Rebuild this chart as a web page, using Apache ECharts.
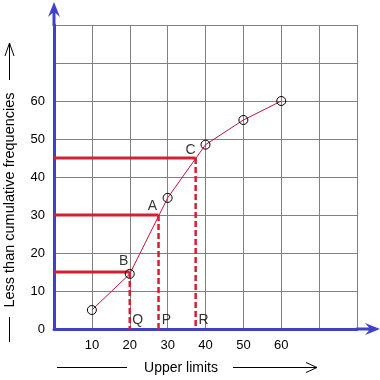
<!DOCTYPE html>
<html>
<head>
<meta charset="utf-8">
<script src="https://cdn.jsdelivr.net/npm/echarts@6/dist/echarts.min.js"></script>
<style>html,body{margin:0;padding:0;background:#fff;}#c{width:380px;height:380px;}</style>
</head>
<body>
<div id="c"></div>
<script>
// ---- data ----
const upperLimits = [10, 20, 30, 40, 50, 60];
const cumFreq = [5, 14.5, 34.5, 48.5, 55, 60];
const guideLevels = [15, 30, 45];        // B, A, C
const guideX = [20, 27.6, 37.4];         // Q, P, R
const pointNames = ['B', 'A', 'C'];
const footNames = ['Q', 'P', 'R'];
const xTickLabels = [10, 20, 30, 40, 50, 60];
const yTickLabels = [0, 10, 20, 30, 40, 50, 60];
const xTitle = 'Upper limits';
const yTitle = 'Less than cumulative frequencies';

const FONT = "'Liberation Sans', Arial, sans-serif";
const BLUE = '#4040c8';
const RED = '#d42030';
const LINE = '#c0143c';
const ARROW = 'path://M6,0 L12,15 L7.5,11 L7.5,24 L4.5,24 L4.5,11 L0,15 Z';

const chart = echarts.init(document.getElementById('c'), null, {renderer: 'canvas'});

const series = [];
// guide lines
guideLevels.forEach((lv, i) => {
  series.push({
    type: 'line', data: [[0, lv], [guideX[i], lv]], symbol: 'none', silent: true,
    lineStyle: {color: RED, width: 3}, z: 3
  });
  series.push({
    type: 'line', data: [[guideX[i], lv], [guideX[i], 0]], symbol: 'none', silent: true,
    lineStyle: {color: RED, width: 2.5, type: [6, 3]}, z: 3
  });
});
// ogive
series.push({
  type: 'line',
  data: upperLimits.map((x, i) => [x, cumFreq[i]]),
  symbol: 'circle', symbolSize: 9,
  lineStyle: {color: LINE, width: 1},
  itemStyle: {color: 'rgba(255,255,255,0)', borderColor: '#000', borderWidth: 1},
  z: 4
});
// letters
const offsets = {B: [-6, -11], A: [-6, -9], C: [-5, -8]};
series.push({
  type: 'scatter', symbolSize: 0, silent: true, z: 6,
  data: guideLevels.map((lv, i) => ({value: [guideX[i], lv], name: pointNames[i],
    label: {offset: offsets[pointNames[i]]}})),
  label: {show: true, position: 'inside', formatter: '{b}', color: '#000', fontSize: 14, fontFamily: FONT}
});
series.push({
  type: 'scatter', symbolSize: 0, silent: true, z: 6,
  data: guideX.map((x, i) => ({value: [x, 0], name: footNames[i]})),
  label: {show: true, position: 'inside', formatter: '{b}', offset: [8, -9], color: '#000', fontSize: 14, fontFamily: FONT}
});

chart.setOption({
  animation: false,
  backgroundColor: '#fff',
  grid: {left: 54, top: 25, width: 303, height: 304, containLabel: false},
  xAxis: {
    type: 'value', min: 0, max: 80, interval: 10,
    axisLine: {show: true, onZero: false, lineStyle: {color: BLUE, width: 3},
      symbol: ['none', ARROW], symbolSize: [12, 24], symbolOffset: [0, 11]},
    axisTick: {show: false},
    splitLine: {show: true, lineStyle: {color: '#808080', width: 1}},
    axisLabel: {margin: 10, color: '#000', fontSize: 13, fontFamily: FONT,
      formatter: v => xTickLabels.indexOf(v) >= 0 ? String(v) : ''}
  },
  yAxis: {
    type: 'value', min: 0, max: 80, interval: 10,
    axisLine: {show: true, onZero: false, lineStyle: {color: BLUE, width: 3},
      symbol: ['none', ARROW], symbolSize: [12, 24], symbolOffset: [0, 11]},
    axisTick: {show: false},
    splitLine: {show: true, lineStyle: {color: '#808080', width: 1}},
    axisLabel: {margin: 9, color: '#000', fontSize: 13, fontFamily: FONT,
      formatter: v => yTickLabels.indexOf(v) >= 0 ? String(v) : ''}
  },
  graphic: [
    {type: 'text', x: 181, y: 368, style: {text: xTitle, font: '14px ' + FONT, fill: '#000', align: 'center', verticalAlign: 'middle'}},
    {type: 'line', shape: {x1: 57, y1: 367.5, x2: 127, y2: 367.5}, style: {stroke: '#000', lineWidth: 1}},
    {type: 'line', shape: {x1: 233, y1: 367.5, x2: 317, y2: 367.5}, style: {stroke: '#000', lineWidth: 1}},
    {type: 'polyline', shape: {points: [[306, 362.5], [317, 367.5], [306, 372.5]]}, style: {stroke: '#000', lineWidth: 1, fill: null}},
    {type: 'text', x: 10, y: 200, rotation: Math.PI / 2, style: {text: yTitle, font: '14.5px ' + FONT, fill: '#000', align: 'center', verticalAlign: 'middle'}},
    {type: 'line', shape: {x1: 9.5, y1: 43, x2: 9.5, y2: 80}, style: {stroke: '#000', lineWidth: 1}},
    {type: 'polyline', shape: {points: [[5, 56], [9.5, 43], [14, 56]]}, style: {stroke: '#000', lineWidth: 1, fill: null}},
    {type: 'line', shape: {x1: 9.5, y1: 317, x2: 9.5, y2: 342}, style: {stroke: '#000', lineWidth: 1}}
  ],
  series: series
});
</script>
</body>
</html>
